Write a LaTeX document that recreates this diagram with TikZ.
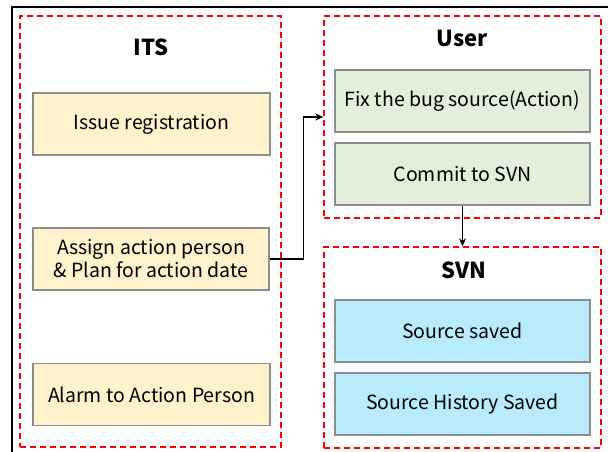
\documentclass[tikz,border=0pt]{standalone}
\usepackage{fontspec}
\setmainfont{Noto Sans CJK KR}
\usetikzlibrary{arrows.meta}
\definecolor{itsfill}{HTML}{FFF2CC}
\definecolor{userfill}{HTML}{E2EFDA}
\definecolor{svnfill}{HTML}{B8EBFC}
\definecolor{boxline}{HTML}{8C8C8C}
\definecolor{dashred}{HTML}{FF0000}
\tikzset{
  procbox/.style={draw=boxline, line width=1.3pt, minimum width=#1, minimum height=62pt, inner sep=0pt, align=center,
    font=\fontsize{19.5}{23}\selectfont},
  container/.style={draw=dashred, line width=1.4pt, dash pattern=on 6pt off 4pt, inner sep=0pt},
  title/.style={font=\fontsize{22}{26}\selectfont\bfseries, inner sep=0pt},
  conn/.style={line width=1.1pt, -{Stealth[length=8pt,width=7pt]}}
}
\begin{document}
\begin{tikzpicture}[x=1pt,y=-1pt]
\useasboundingbox (0,0) rectangle (608,452);
\fill[white] (0,0) rectangle (608,452);
\draw[line width=1.2pt] (12,452) -- (12,7) -- (608,7);
% containers
\node[container, minimum width=261pt, minimum height=431pt] (its) at (150.5,231.5) {};
\node[container, minimum width=277pt, minimum height=202pt] (user) at (462.5,117) {};
\node[container, minimum width=277pt, minimum height=201pt] (svn) at (462.5,347.5) {};
% titles
\node[title] (itst) at (151,47) {ITS};
\node[title] (usert) at (462,38) {User};
\node[title] (svnt) at (464,270) {SVN};
% boxes
\node[procbox=237pt, fill=itsfill] (issue) at (151.5,124) {Issue registration};
\node[procbox=236pt, fill=itsfill] (assign) at (151,259) {Assign action person\\\& Plan for action date};
\node[procbox=237pt, fill=itsfill] (alarm) at (151.5,394.5) {Alarm to Action Person};
\node[procbox=255pt, fill=userfill] (fix) at (462.5,101) {Fix the bug source(Action)};
\node[procbox=255pt, fill=userfill] (commit) at (462.5,174) {Commit to SVN};
\node[procbox=255pt, fill=svnfill] (saved) at (462.5,331) {Source saved};
\node[procbox=255pt, fill=svnfill] (history) at (462.5,404) {Source History Saved};
% connectors
\draw[conn] (assign.east) -- ++(34,0) |- (user.west);
\draw[conn] (commit.south) -- (svn.north);
\end{tikzpicture}
\end{document}
